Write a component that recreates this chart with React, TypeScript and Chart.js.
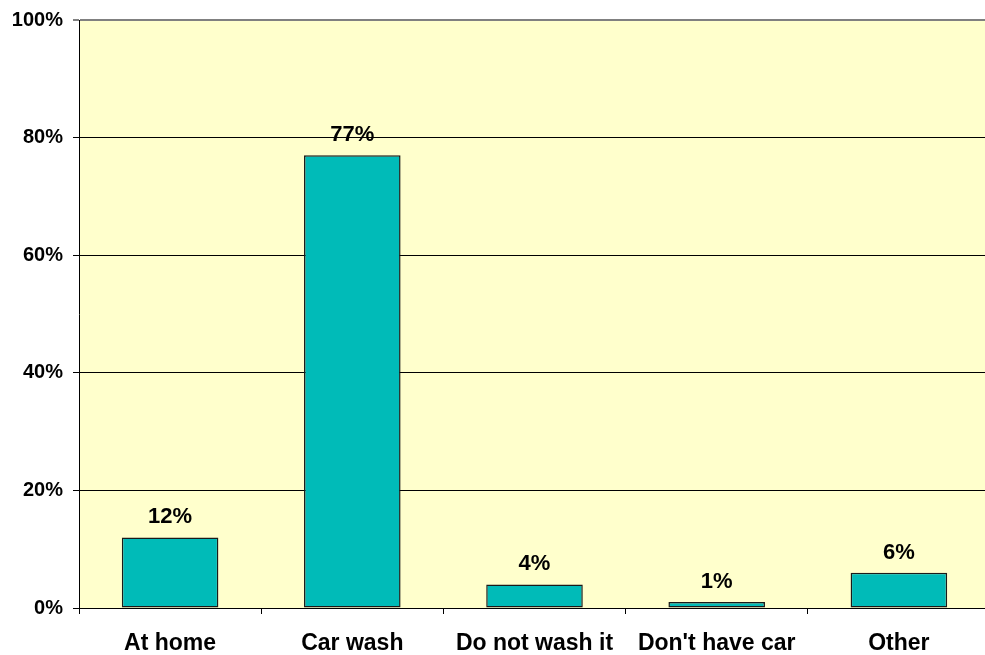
import React, { useEffect, useRef } from "react";
import { Chart, registerables } from "chart.js";

Chart.register(...registerables);

const categories = ["At home", "Car wash", "Do not wash it", "Don't have car", "Other"];
const values = [12, 77, 4, 1, 6];
const yTicks = [0, 20, 40, 60, 80, 100];

const FONT = "'Liberation Sans', Arial, sans-serif";

export default function App() {
  const ref = useRef<HTMLCanvasElement | null>(null);

  useEffect(() => {
    document.body.style.overflow = "hidden";
    const ctx = ref.current!.getContext("2d")!;
    const bgPlugin = {
      id: "bg",
      beforeDraw(chart: any) {
        const { ctx, chartArea } = chart;
        ctx.save();
        ctx.fillStyle = "#FFFFCC";
        ctx.fillRect(chartArea.left, chartArea.top, chartArea.right - chartArea.left, chartArea.bottom - chartArea.top);
        ctx.restore();
      },
    };
    const labelPlugin = {
      id: "lbl",
      afterDatasetsDraw(chart: any) {
        const { ctx } = chart;
        const meta = chart.getDatasetMeta(0);
        ctx.save();
        ctx.font = `bold 22px ${FONT}`;
        ctx.fillStyle = "#000";
        ctx.textAlign = "center";
        ctx.textBaseline = "alphabetic";
        meta.data.forEach((el: any, i: number) => {
          ctx.fillText(values[i] + "%", el.x, el.y - 14);
        });
        ctx.restore();
      },
    };
    const chart = new Chart(ctx, {
      type: "bar",
      data: {
        labels: categories,
        datasets: [
          {
            data: values,
            backgroundColor: "#00BBB8",
            borderColor: "#1a1a1a",
            borderWidth: 1.5,
            borderSkipped: false,
            barPercentage: 0.53,
            categoryPercentage: 1,
          },
        ],
      },
      options: {
        animation: false,
        responsive: false,
        maintainAspectRatio: false,
        layout: { padding: { top: 20, left: 0, right: 0, bottom: 0 } },
        plugins: { legend: { display: false }, tooltip: { enabled: false } },
        scales: {
          x: {
            offset: true,
            grid: {
              offset: true,
              drawOnChartArea: false,
              drawTicks: true,
              tickLength: 6,
              color: "#000",
            },
            border: { display: true, color: "#000", width: 1 },
            ticks: {
              color: "#000",
              font: { family: FONT, size: 23, weight: "bold" },
              padding: 16,
              maxRotation: 0,
              autoSkip: false,
            },
            afterFit(scale: any) {
              scale.height = 47;
            },
          },
          y: {
            min: 0,
            max: 100,
            afterBuildTicks(scale: any) {
              scale.ticks = yTicks.map((v) => ({ value: v }));
            },
            grid: {
              color: (c: any) => (c.tick && c.tick.value === 100 ? "#808080" : "#000"),
              lineWidth: (c: any) => (c.tick && c.tick.value === 100 ? 2 : 1),
              drawTicks: true,
              tickLength: 6,
            },
            border: { display: true, color: "#000", width: 1 },
            ticks: {
              color: "#000",
              font: { family: FONT, size: 20, weight: "bold", lineHeight: 0.8 },
              padding: 10,
              callback: (v: any) => v + "%",
            },
            afterFit(scale: any) {
              scale.width = 79;
              scale.paddingTop = 0;
              scale.paddingBottom = 0;
            },
          },
        },
      },
      plugins: [bgPlugin, labelPlugin],
    });
    return () => chart.destroy();
  }, []);

  return (
    <div style={{ position: "fixed", left: 0, top: 0, width: 990, height: 655, background: "#fff" }}>
      <canvas ref={ref} width={990} height={655} style={{ display: "block" }} />
    </div>
  );
}
